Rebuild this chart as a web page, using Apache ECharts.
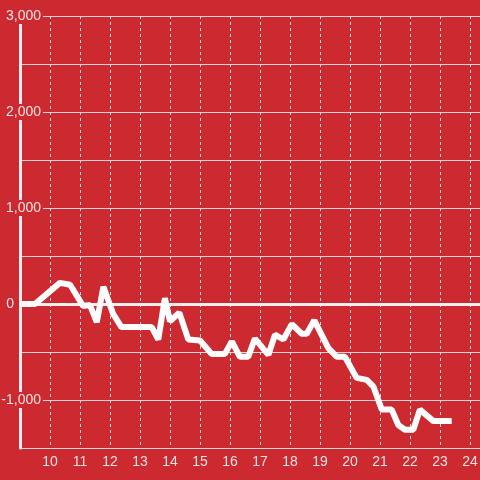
<!DOCTYPE html>
<html>
<head>
<meta charset="utf-8">
<script src="https://cdn.jsdelivr.net/npm/echarts@6/dist/echarts.min.js"></script>
<style>html,body{margin:0;padding:0;background:#cc2a30;}#c{width:480px;height:480px;}</style>
</head>
<body>
<div id="c"></div>
<script>
var xValues = [9, 9.5, 10.33, 10.67, 11.1, 11.33, 11.56, 11.78, 12.1, 12.38, 13.39, 13.61, 13.83, 14, 14.31, 14.61, 15, 15.39, 15.83, 16.06, 16.33, 16.61, 16.83, 17.28, 17.5, 17.78, 18.06, 18.39, 18.56, 18.81, 19.28, 19.56, 19.83, 20.22, 20.56, 20.78, 21.06, 21.39, 21.61, 21.83, 22.11, 22.33, 22.78, 23.39];
var yValues = [0, 0, 220, 200, -20, -10, -190, 180, -100, -240, -240, -370, 60, -180, -90, -370, -380, -520, -520, -390, -550, -550, -360, -530, -320, -370, -210, -310, -310, -170, -460, -550, -550, -770, -790, -860, -1100, -1100, -1260, -1310, -1310, -1100, -1220, -1220];
var xTicks = [10, 11, 12, 13, 14, 15, 16, 17, 18, 19, 20, 21, 22, 23, 24];
var yLabelValues = [-1000, 0, 1000, 2000, 3000];

var points = xValues.map(function (x, i) { return [x, yValues[i]]; });
var textColor = 'rgba(255,255,255,0.86)';
var font = 'Liberation Sans';

var chart = echarts.init(document.getElementById('c'));
chart.setOption({
  backgroundColor: '#cc2a30',
  animation: false,
  grid: { left: 20, right: 0, top: 16, bottom: 32, containLabel: false, outerBoundsMode: 'none' },
  xAxis: {
    type: 'value',
    min: 9,
    max: 9 + 460 / 30,
    interval: 1,
    axisLine: { show: false },
    axisTick: { show: false },
    axisLabel: {
      color: textColor, fontSize: 14, fontFamily: font, margin: 7,
      formatter: function (v) { return xTicks.indexOf(Math.round(v)) >= 0 && Math.abs(v - Math.round(v)) < 1e-6 ? String(Math.round(v)) : ''; }
    },
    splitLine: { show: true, lineStyle: { color: '#dddddd', width: 1, type: [3, 3] } }
  },
  yAxis: {
    type: 'value',
    min: -1500,
    max: 3000,
    interval: 500,
    axisLine: { show: true, lineStyle: { color: '#eeeeee', width: 3 } },
    axisTick: { show: false },
    axisLabel: {
      align: 'right',
      margin: -23,
      formatter: function (v) {
        if (yLabelValues.indexOf(v) < 0) return '';
        if (v === 0) return '{b|0}';
        return '{a|' + echarts.format.addCommas(v) + '}';
      },
      rich: {
        a: { color: textColor, fontSize: 14, fontFamily: font, backgroundColor: '#cc2a30', padding: [1, 2, 1, 1] },
        b: { color: textColor, fontSize: 14, fontFamily: font, padding: [1, 29, 1, 0] }
      }
    },
    splitLine: { show: true, lineStyle: { color: '#d6d6d6', width: 1 } }
  },
  series: [{
    type: 'line',
    data: points,
    showSymbol: false,
    symbol: 'none',
    lineStyle: { color: '#ffffff', width: 6 },
    markLine: {
      silent: true,
      symbol: 'none',
      label: { show: false },
      lineStyle: { color: '#eeeeee', width: 3, type: 'solid' },
      data: [{ yAxis: 0 }],
      z: 1
    }
  }]
});
</script>
</body>
</html>
